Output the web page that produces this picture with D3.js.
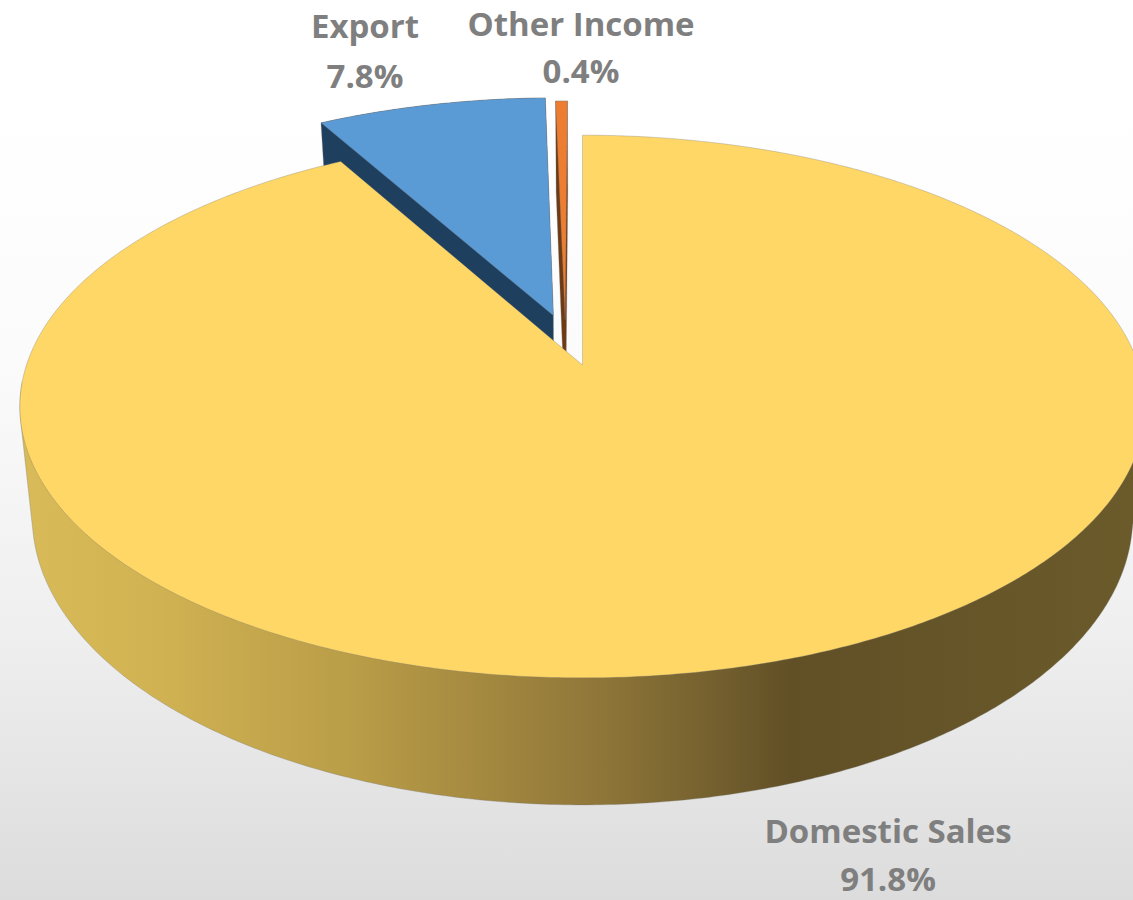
<!DOCTYPE html>
<html><head><meta charset="utf-8">
<script src="https://cdnjs.cloudflare.com/ajax/libs/d3/7.8.5/d3.min.js"></script>
<style>html,body{margin:0;padding:0;overflow:hidden}svg{display:block}</style>
</head><body><div id="chart"></div>
<script>
const categories = ["Domestic Sales", "Export", "Other Income"];
const shares = [91.8, 7.8, 0.4];
const shareLabels = ["91.8%", "7.8%", "0.4%"];
const topColors = ["#fed766", "#5b9bd5", "#ed7d31"];
const sideColors = ["#d4b754", "#1f3f5e", "#6e3a13"];

const W = 1133, H = 900;
const cx = 582.5, cy = 365, R = 556, S = 265, k = 0.153, D = 107.6, shrink = 0.978;
const explode = [[0, 0], [-0.054, 0.192], [-0.032, 0.175]];
const labelPos = [[888, 843, 891], [365, 38, 88], [581, 35.5, 83]];

function proj(u, v) { const w = 1 + k * v; return [cx + R * u / w, cy - S * v / w]; }
function low(u, v) { const w = 1 + k * v, p = proj(u, v); return [cx + (p[0] - cx) * shrink, p[1] + D / w]; }

const pie = d3.pie().sort(null).value(d => d);
const arcs = pie(shares);

const svg = d3.select("#chart").append("svg").attr("width", W).attr("height", H);
const defs = svg.append("defs");
const bg = defs.append("linearGradient").attr("id", "bg").attr("x1", 0).attr("x2", 0).attr("y1", 0).attr("y2", 1);
[[0, "#ffffff"], [0.12, "#ffffff"], [0.4, "#fbfbfb"], [0.7, "#efefef"], [1, "#dcdcdc"]].forEach(s => bg.append("stop").attr("offset", s[0]).attr("stop-color", s[1]));
const sg = defs.append("linearGradient").attr("id", "wall").attr("gradientUnits", "userSpaceOnUse").attr("x1", 30).attr("x2", 1133).attr("y1", 0).attr("y2", 0);
[[0, "#d8ba58"], [0.12, "#d0b252"], [0.3, "#b89c47"], [0.5, "#93793a"], [0.62, "#74602f"], [0.69, "#615026"], [1, "#6b5a2a"]].forEach(s => sg.append("stop").attr("offset", s[0]).attr("stop-color", s[1]));

svg.append("rect").attr("width", W).attr("height", H).attr("fill", "url(#bg)");

const line = d3.line();
function rim(a, e, fn) {
  const n = Math.max(4, Math.ceil((a.endAngle - a.startAngle) / 0.01));
  return d3.range(n + 1).map(i => {
    const t = a.startAngle + (a.endAngle - a.startAngle) * i / n;
    return fn(Math.sin(t) + e[0], Math.cos(t) + e[1]);
  });
}
const edge = "rgba(120,120,120,0.4)";
function wedge(i) {
  const a = arcs[i], e = explode[i];
  const top = rim(a, e, proj);
  top.push(proj(e[0], e[1]));
  return top;
}
function drawSide(i, pts) {
  const hull = d3.polygonHull(pts);
  svg.append("path").attr("d", line(hull) + "Z").attr("fill", i === 0 ? "url(#wall)" : sideColors[i]).attr("stroke", edge).attr("stroke-width", 0.8);
}
function drawTop(i) {
  svg.append("path").attr("d", line(wedge(i)) + "Z").attr("fill", topColors[i]).attr("stroke", edge).attr("stroke-width", 0.8).attr("stroke-linejoin", "round");
}
[1, 2].forEach(i => {
  const a = arcs[i], e = explode[i];
  drawSide(i, wedge(i).concat(rim(a, e, low), [low(e[0], e[1])]));
  drawTop(i);
});
const front = { startAngle: Math.PI * 0.52, endAngle: Math.PI * 1.48 };
drawSide(0, rim(front, [0, 0], proj).concat(rim(front, [0, 0], low)));
drawTop(0);

categories.forEach((c, i) => {
  const t = svg.append("g").attr("font-family", "'Open Sans',sans-serif").attr("font-weight", 700).attr("font-size", 33).attr("fill", "#7f7f7f").attr("text-anchor", "middle");
  t.append("text").attr("x", labelPos[i][0]).attr("y", labelPos[i][1]).text(c);
  t.append("text").attr("x", labelPos[i][0]).attr("y", labelPos[i][2]).text(shareLabels[i]);
});
</script></body></html>
